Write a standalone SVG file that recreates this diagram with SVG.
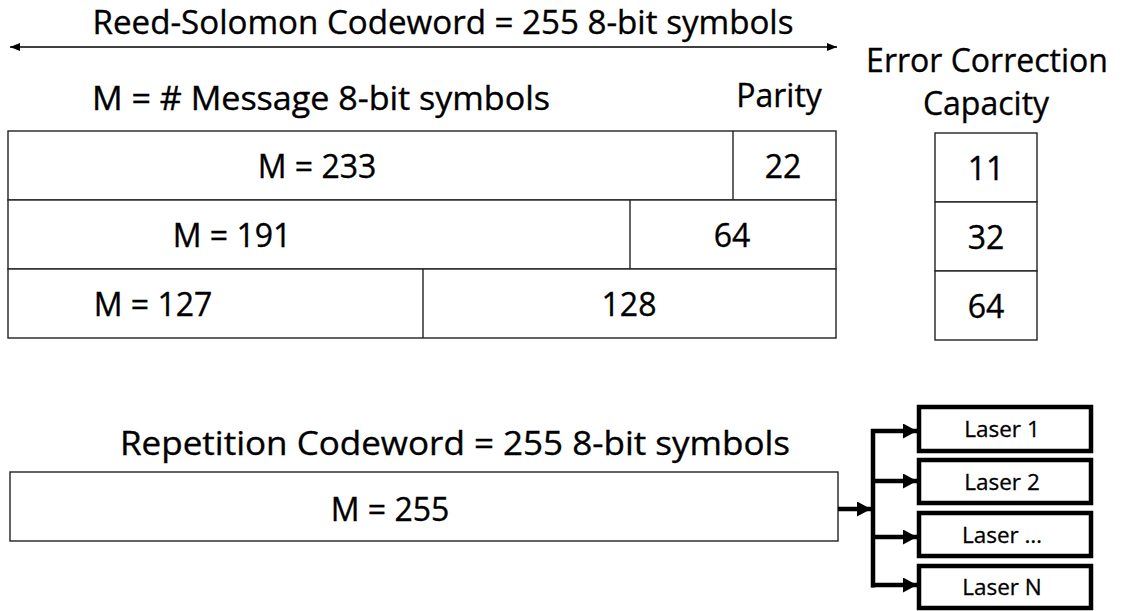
<svg xmlns="http://www.w3.org/2000/svg" width="1125" height="611" viewBox="0 0 1125 611">
  <defs>
    <style>
      text { font-family: "Open Sans", "Noto Sans", sans-serif; fill: #000; stroke: #000; stroke-width: 0.35; text-anchor: middle; }
      .lbl { font-size: 32px; }
      .small { font-size: 22.5px; stroke-width: 0.3; }
      .cell { fill: #fff; stroke: #222; stroke-width: 1.4; }
      .div { stroke: #222; stroke-width: 1.4; fill: none; }
      .laser { fill: #fff; stroke: #000; stroke-width: 4.5; }
      .thin { stroke: #000; stroke-width: 1.5; fill: none; }
      .thick { stroke: #000; stroke-width: 4.5; fill: none; }
    </style>
    <marker id="headThin" viewBox="0 0 10 8" refX="10" refY="4" markerWidth="10" markerHeight="8" markerUnits="userSpaceOnUse" orient="auto-start-reverse">
      <path d="M0,0 L10,4 L0,8 Z" fill="#000"/>
    </marker>
    <marker id="headThick" viewBox="0 0 14 15" refX="14" refY="7.5" markerWidth="14" markerHeight="15" markerUnits="userSpaceOnUse" orient="auto">
      <path d="M0,0 L14,7.5 L0,15 Z" fill="#000"/>
    </marker>
  </defs>

  <rect width="1125" height="611" fill="#fff"/>

  <!-- Reed-Solomon headings -->
  <g id="rs-title">
    <text class="lbl" x="443" y="34" textLength="701" lengthAdjust="spacingAndGlyphs">Reed-Solomon Codeword = 255 8-bit symbols</text>
  </g>
  <g id="msg-heading">
    <text class="lbl" x="321" y="110" textLength="458" lengthAdjust="spacingAndGlyphs">M = # Message 8-bit symbols</text>
  </g>
  <g id="parity-heading">
    <text class="lbl" x="779" y="107">Parity</text>
  </g>
  <g id="ecc-heading">
    <text class="lbl" x="987" y="72">Error Correction</text>
    <text class="lbl" x="986" y="115">Capacity</text>
  </g>

  <!-- Codeword rows: message part + parity part -->
  <g id="row-233">
    <rect class="cell" x="8" y="131" width="828" height="69"/>
    <line class="div" x1="733" y1="131" x2="733" y2="200"/>
    <text class="lbl" x="317" y="178">M = 233</text>
    <text class="lbl" x="783" y="178">22</text>
  </g>
  <g id="row-191">
    <rect class="cell" x="8" y="200" width="828" height="69"/>
    <line class="div" x1="630" y1="200" x2="630" y2="269"/>
    <text class="lbl" x="232" y="247">M = 191</text>
    <text class="lbl" x="732" y="247">64</text>
  </g>
  <g id="row-127">
    <rect class="cell" x="8" y="269" width="828" height="69"/>
    <line class="div" x1="423" y1="269" x2="423" y2="338"/>
    <text class="lbl" x="153" y="316">M = 127</text>
    <text class="lbl" x="629" y="316">128</text>
  </g>

  <!-- Correction capacity column -->
  <g id="ecc-11">
    <rect class="cell" x="935" y="133" width="102" height="69"/>
    <text class="lbl" x="986" y="180">11</text>
  </g>
  <g id="ecc-32">
    <rect class="cell" x="935" y="202" width="102" height="69"/>
    <text class="lbl" x="986" y="249">32</text>
  </g>
  <g id="ecc-64">
    <rect class="cell" x="935" y="271" width="102" height="69"/>
    <text class="lbl" x="986" y="318">64</text>
  </g>

  <!-- Repetition code -->
  <g id="rep-title">
    <text class="lbl" x="455" y="455" textLength="670" lengthAdjust="spacingAndGlyphs">Repetition Codeword = 255 8-bit symbols</text>
  </g>
  <g id="rep-box">
    <rect class="cell" x="10" y="472" width="828" height="69"/>
    <text class="lbl" x="390" y="521">M = 255</text>
  </g>

  <!-- Laser outputs -->
  <g id="laser-1">
    <rect class="laser" x="919" y="407" width="172" height="44"/>
    <text class="small" x="1002" y="437">Laser 1</text>
  </g>
  <g id="laser-2">
    <rect class="laser" x="919" y="460" width="172" height="43"/>
    <text class="small" x="1002" y="490">Laser 2</text>
  </g>
  <g id="laser-dots">
    <rect class="laser" x="919" y="513" width="172" height="43"/>
    <text class="small" x="1002" y="543">Laser …</text>
  </g>
  <g id="laser-n">
    <rect class="laser" x="919" y="566" width="172" height="42"/>
    <text class="small" x="1002" y="595">Laser N</text>
  </g>

  <!-- Connectors -->
  <g id="connectors">
    <line class="thin" x1="10" y1="47" x2="837" y2="47" marker-start="url(#headThin)" marker-end="url(#headThin)"/>
    <line class="thick" x1="838" y1="509" x2="871" y2="509" marker-end="url(#headThick)"/>
    <line class="thick" x1="873" y1="429" x2="873" y2="587.5"/>
    <line class="thick" x1="871" y1="431" x2="917" y2="431" marker-end="url(#headThick)"/>
    <line class="thick" x1="871" y1="481" x2="917" y2="481" marker-end="url(#headThick)"/>
    <line class="thick" x1="871" y1="537" x2="917" y2="537" marker-end="url(#headThick)"/>
    <line class="thick" x1="871" y1="585" x2="917" y2="585" marker-end="url(#headThick)"/>
  </g>
</svg>
